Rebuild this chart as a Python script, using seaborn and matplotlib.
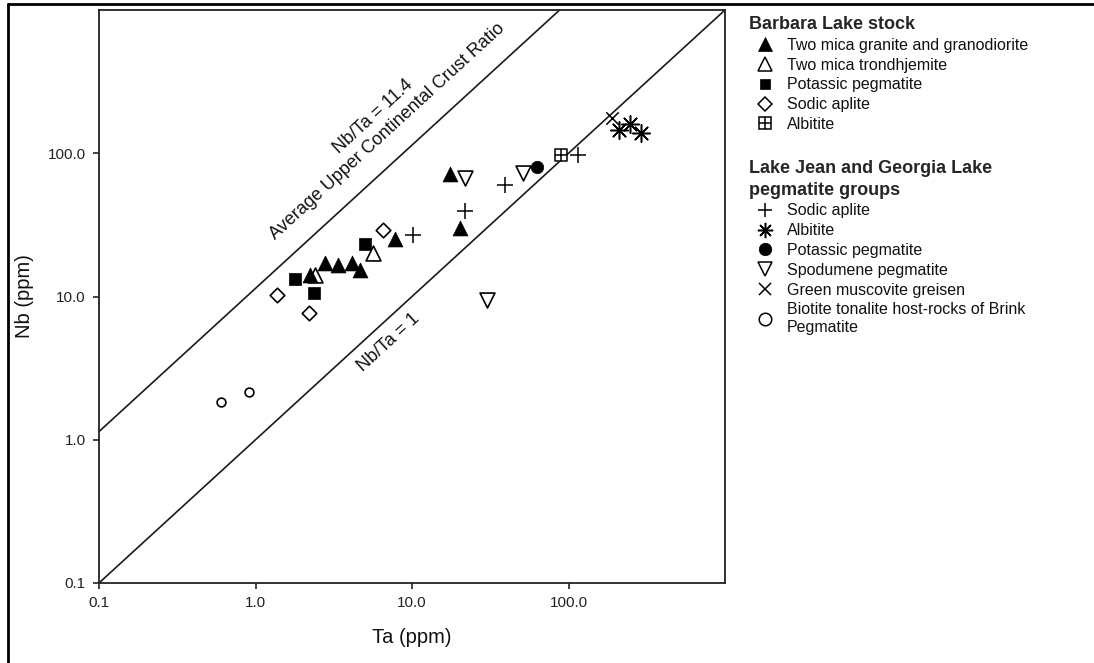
import numpy as np
import matplotlib
matplotlib.use("Agg")
import matplotlib.pyplot as plt
import seaborn as sns
from matplotlib.lines import Line2D
from matplotlib.ticker import NullLocator

sns.set_theme(style="ticks")
plt.rcParams['font.family'] = ['Liberation Sans', 'DejaVu Sans']

# ---------------- data (Ta, Nb in ppm) ----------------
# Barbara Lake stock
tm_gran_ta = [2.23, 2.78, 3.37, 4.14, 4.65, 7.79, 17.5, 20.3]
tm_gran_nb = [14.1, 17.1, 16.6, 17.1, 15.3, 25.2, 71.6, 30.1]
tm_trond_ta = [2.40, 5.63]
tm_trond_nb = [14.1, 20.1]
bl_kpeg_ta = [1.79, 2.36, 5.01]
bl_kpeg_nb = [13.2, 10.6, 23.2]
bl_aplite_ta = [1.37, 2.20, 6.53]
bl_aplite_nb = [10.2, 7.67, 29.1]
bl_albitite_ta = [89.5]
bl_albitite_nb = [97.2]
# Lake Jean and Georgia Lake pegmatite groups
lj_aplite_ta = [10.1, 21.8, 39.3, 115.0]
lj_aplite_nb = [26.9, 39.5, 60.0, 97.2]
lj_albitite_ta = [210.0, 247.0, 291.0]
lj_albitite_nb = [145.0, 160.0, 138.0]
lj_kpeg_ta = [63.0]
lj_kpeg_nb = [80.2]
spod_ta = [21.8, 51.2, 30.2]
spod_nb = [67.2, 72.8, 9.46]
greisen_ta = [190.0]
greisen_nb = [176.0]
tonalite_ta = [0.60, 0.91]
tonalite_nb = [1.83, 2.15]

ratios = [11.4, 1.0]
line_ta = [0.1, 1000.0]

tick_vals = [0.1, 1.0, 10.0, 100.0]
tick_labels = ["0.1", "1.0", "10.0", "100.0"]

bl_title = "Barbara Lake stock"
bl_labels = ["Two mica granite and granodiorite", "Two mica trondhjemite",
             "Potassic pegmatite", "Sodic aplite", "Albitite"]
lj_title = "Lake Jean and Georgia Lake\npegmatite groups"
lj_labels = ["Sodic aplite", "Albitite", "Potassic pegmatite", "Spodumene pegmatite",
             "Green muscovite greisen", "Biotite tonalite host-rocks of Brink\nPegmatite"]

# ---------------- figure ----------------
W, H = 1094, 663
fig = plt.figure(figsize=(W / 100, H / 100), dpi=100)
fig.patch.set_facecolor("white")
ax = fig.add_axes([99 / W, 1 - 583 / H, 626 / W, 573 / H])
ax.set_xscale("log")
ax.set_yscale("log")
ax.set_xlim(0.1, 1000)
ax.set_ylim(0.1, 1000)

# reference ratio lines
lx = np.array(line_ta)
for r in ratios:
    sns.lineplot(x=lx, y=r * lx, ax=ax, color="#1a1a1a", linewidth=1.2, zorder=1)

K = "black"
LW = 1.1
# draw order: open/light symbols first, filled on top
sns.scatterplot(x=tonalite_ta, y=tonalite_nb, marker="o", s=40, color=K,
                facecolor="white", edgecolor=K, linewidth=1.2, ax=ax, zorder=3)
sns.scatterplot(x=spod_ta, y=spod_nb, marker="v", s=115, color=K,
                facecolor="white", edgecolor=K, linewidth=1.2, ax=ax, zorder=3)
sns.scatterplot(x=bl_aplite_ta, y=bl_aplite_nb, marker="D", s=55, color=K,
                facecolor="white", edgecolor=K, linewidth=1.2, ax=ax, zorder=3)
sns.scatterplot(x=tm_trond_ta, y=tm_trond_nb, marker="^", s=115, color=K,
                facecolor="white", edgecolor=K, linewidth=1.2, ax=ax, zorder=3)
sns.scatterplot(x=bl_albitite_ta, y=bl_albitite_nb, marker="s", s=75, color=K,
                facecolor="white", edgecolor=K, linewidth=1.1, ax=ax, zorder=3)
sns.scatterplot(x=bl_albitite_ta, y=bl_albitite_nb, marker="+", s=75, color=K,
                linewidth=1.1, ax=ax, zorder=4)
sns.scatterplot(x=lj_aplite_ta, y=lj_aplite_nb, marker="+", s=130, color=K,
                linewidth=LW, ax=ax, zorder=4)
sns.scatterplot(x=greisen_ta, y=greisen_nb, marker="x", s=80, color=K,
                linewidth=LW, ax=ax, zorder=4)
sns.scatterplot(x=lj_albitite_ta, y=lj_albitite_nb, marker=(8, 2, 0), s=160, color=K,
                linewidth=LW, ax=ax, zorder=4)
sns.scatterplot(x=lj_kpeg_ta, y=lj_kpeg_nb, marker="o", s=80, color=K,
                edgecolor=K, linewidth=0.5, ax=ax, zorder=5)
sns.scatterplot(x=bl_kpeg_ta, y=bl_kpeg_nb, marker="s", s=75, color=K,
                edgecolor=K, linewidth=0.5, ax=ax, zorder=5)
sns.scatterplot(x=tm_gran_ta, y=tm_gran_nb, marker="^", s=115, color=K,
                edgecolor=K, linewidth=0.5, ax=ax, zorder=6)

# axes styling
for sp in ax.spines.values():
    sp.set_visible(True)
    sp.set_linewidth(1.3)
    sp.set_color("#222222")
ax.set_xticks(tick_vals, tick_labels)
ax.set_yticks(tick_vals, tick_labels)
ax.xaxis.set_minor_locator(NullLocator())
ax.yaxis.set_minor_locator(NullLocator())
ax.tick_params(axis="both", direction="out", length=4.5, width=1.2, color="#222222",
               labelsize=11, labelcolor="#222222", pad=5)
ax.set_xlabel("Ta (ppm)", fontsize=14.5, labelpad=13, color="#111111")
ax.set_ylabel("Nb (ppm)", fontsize=14.5, labelpad=10, color="#111111")

# line annotations, rotated along the lines
fig.canvas.draw()
p1 = ax.transData.transform((0.1, 0.1))
p2 = ax.transData.transform((1000, 1000))
ang = np.degrees(np.arctan2(p2[1] - p1[1], p2[0] - p1[0]))
ax.text(6.25, 160, "Nb/Ta = 11.4\nAverage Upper Continental Crust Ratio",
        rotation=ang, rotation_mode="anchor", ha="center", va="center",
        multialignment="center", linespacing=1.3, fontsize=13, color="#111111")
ax.text(7.13, 4.81, "Nb/Ta = 1", rotation=ang, rotation_mode="anchor",
        ha="center", va="center", fontsize=13, color="#111111")

# ---------------- legends ----------------
def mk(marker, filled, ms, mew=1.1):
    return Line2D([], [], linestyle="none", marker=marker, color=K,
                  markerfacecolor=(K if filled else "white"), markeredgecolor=K,
                  markersize=ms, markeredgewidth=mew)

bl_handles = [mk("^", True, 9.5, 0.5), mk("^", False, 9.5), mk("s", True, 7.5, 0.5),
              mk("D", False, 7), (mk("s", False, 8), mk("+", False, 8))]
lj_handles = [mk("+", False, 10), mk((8, 2, 0), False, 11), mk("o", True, 9, 0.5),
              mk("v", False, 9.5), mk("x", False, 8), mk("o", False, 9)]

common = dict(loc="upper left", frameon=False, alignment="left", fontsize=11.5,
              title_fontproperties={"weight": "bold", "size": 13},
              handlelength=2.0, handletextpad=0.35, labelspacing=0.3,
              borderpad=0, borderaxespad=0)
leg1 = fig.legend(bl_handles, bl_labels, title=bl_title,
                  bbox_to_anchor=(749 / W, 1 - 16 / H), **common)
leg2 = fig.legend(lj_handles, lj_labels, title=lj_title,
                  bbox_to_anchor=(749 / W, 1 - 160 / H), **common)
leg2.get_title().set_linespacing(1.35)
for lg in (leg1, leg2):
    for t in lg.get_texts():
        t.set_color("#111111")

# outer frame (top and left edges)
fig.add_artist(Line2D([8 / W, 8 / W], [0, 1 - 4 / H], transform=fig.transFigure,
                      color="black", linewidth=2))
fig.add_artist(Line2D([8 / W, 1], [1 - 4 / H, 1 - 4 / H], transform=fig.transFigure,
                      color="black", linewidth=2))

fig.savefig("out.png", dpi=100, facecolor="white")
